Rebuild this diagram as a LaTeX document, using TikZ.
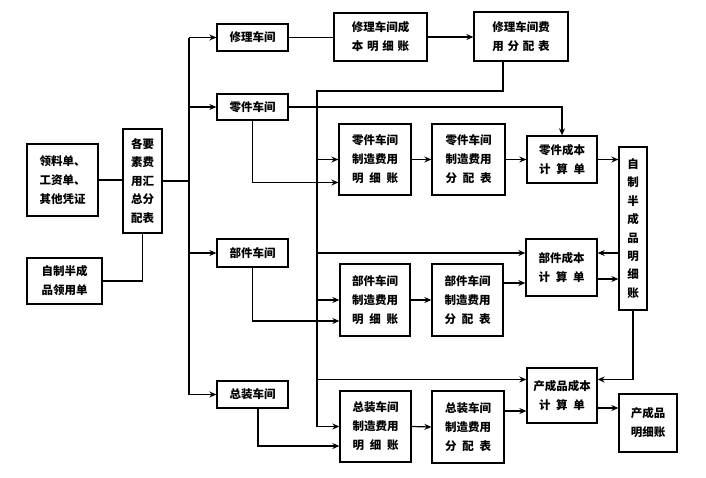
\documentclass[tikz,border=0pt]{standalone}
\usepackage{fontspec}
\setmainfont{Noto Sans CJK SC}
\usetikzlibrary{arrows.meta,calc}
\newcommand{\kg}{\hspace{0.5em}}
\newcommand{\kh}{\hspace{0.33em}}
\tikzset{
  box/.style={draw,line width=1.3pt,inner sep=0pt,align=center,
    font=\fontsize{11.5pt}{19pt}\selectfont\bfseries},
  >={Stealth[length=7pt,width=6pt]}
}

\begin{document}
\begin{tikzpicture}[x=1pt,y=-1pt,line width=1.2pt]
  \useasboundingbox (0,0) rectangle (706,477);
  % source documents
  \node[box,minimum width=71pt,minimum height=72pt,align=left] (lld) at (62.5,180) {领料单、\\工资单、\\其他凭证};
  \node[box,minimum width=75pt,minimum height=46pt] (zzly) at (64.5,281) {自制半成\\品领用单};
  \node[box,minimum width=39pt,minimum height=104pt,font=\fontsize{11.5pt}{18.5pt}\selectfont\bfseries] (hz) at (142.5,181) {各要\\素费\\用汇\\总分\\配表};
  % workshops
  \node[box,minimum width=71pt,minimum height=27pt] (xl) at (252.5,37.5) {修理车间};
  \node[box,minimum width=71pt,minimum height=26pt] (lj) at (252.5,107) {零件车间};
  \node[box,minimum width=71pt,minimum height=28pt] (bj) at (252.5,253) {部件车间};
  \node[box,minimum width=71pt,minimum height=27pt] (zz) at (252.5,394.5) {总装车间};
  % repair
  \node[box,minimum width=93pt,minimum height=48pt] (xlmx) at (380.5,37) {修理车间成\\本\kh 明\kh 细\kh 账};
  \node[box,minimum width=94pt,minimum height=49pt] (xlfp) at (521,36.5) {修理车间费\\用\kh 分\kh 配\kh 表};
  % parts
  \node[box,minimum width=72pt,minimum height=71pt] (ljmx) at (375,159.5) {零件车间\\制造费用\\明\kg 细\kg 账};
  \node[box,minimum width=73pt,minimum height=71pt] (ljfp) at (468.5,159.5) {零件车间\\制造费用\\分\kg 配\kg 表};
  \node[box,minimum width=70pt,minimum height=47pt] (ljcb) at (562,159.5) {零件成本\\计\kg 算\kg 单};
  % components
  \node[box,minimum width=70pt,minimum height=72pt] (bjmx) at (375,300) {部件车间\\制造费用\\明\kg 细\kg 账};
  \node[box,minimum width=71pt,minimum height=72pt] (bjfp) at (467.5,300) {部件车间\\制造费用\\分\kg 配\kg 表};
  \node[box,minimum width=71pt,minimum height=57pt] (bjcb) at (561.5,267.5) {部件成本\\计\kg 算\kg 单};
  % assembly
  \node[box,minimum width=71pt,minimum height=71pt] (zzmx) at (375.5,426.5) {总装车间\\制造费用\\明\kg 细\kg 账};
  \node[box,minimum width=72pt,minimum height=72pt] (zzfp) at (468,427) {总装车间\\制造费用\\分\kg 配\kg 表};
  \node[box,minimum width=70pt,minimum height=55pt] (cpcb) at (562,395.5) {产成品成本\\计\kg 算\kg 单};
  % ledgers
  \node[box,minimum width=28pt,minimum height=163pt,font=\fontsize{11.5pt}{18.4pt}\selectfont\bfseries] (zzbmx) at (633,228.5) {自\\制\\半\\成\\品\\明\\细\\账};
  \node[box,minimum width=58pt,minimum height=58pt] (cpmx) at (648,423) {产成品\\明细账};

  % collection
  \coordinate (bus) at (189,0);
  \coordinate (top2) at (317,91);
  \coordinate (c1) at ([yshift=16pt]cpcb.west);
  \draw (lld.east) -- (lld.east -| hz.west);
  \draw (zzly.east) -| (hz.south);
  \draw (hz.east) -- (hz.east -| bus);
  \draw (bus |- xl) -- (bus |- zz);
  \foreach \n in {xl,lj,bj,zz}
    \draw[->] (bus |- \n) -- (\n.west);
  % repair flow
  \draw (xl.east) -- (xl.east -| xlmx.west);
  \draw[->] (xlmx.east) -- (xlmx.east -| xlfp.west);
  \draw[->] ([xshift=-18pt]xlfp.south) |- (top2) |- (zzmx.west);
  \draw[->] (top2 |- ljmx) -- (ljmx.west);
  \draw[->] (top2 |- bjmx) -- (bjmx.west);
  \draw[->] (top2 |- bj) -- (bj -| bjcb.west);
  \draw[->] (top2 |- c1) -- (c1);
  % workshop costs
  \draw[->] (lj.east) -| (ljcb.north);
  \draw[->] (lj.south) |- ([yshift=-23pt]ljmx.west);
  \draw[->] (bj.south) |- ([yshift=-21pt]bjmx.west);
  \draw[->] ([xshift=5.5pt]zz.south) |- ([yshift=-19.5pt]zzmx.west);
  \draw[->] (ljmx.east) -- (ljfp.west);
  \draw[->] (ljfp.east) -- (ljcb.west);
  \draw[->] (ljcb.east) -- (ljcb.east -| zzbmx.west);
  \draw[->] (bjmx.east) -- (bjfp.west);
  \draw[->] ([yshift=-15.5pt]bjcb.west -| bjfp.east) -- ([yshift=-15.5pt]bjcb.west);
  \draw[->] (bj -| zzbmx.west) -- (bj -| bjcb.east);
  \draw[->] ([yshift=-11.5pt]bjcb.east) -- ([yshift=-11.5pt]bjcb.east -| zzbmx.west);
  \draw[->] (zzbmx.south) |- (c1 -| cpcb.east);
  \draw[->] (zzmx.east) -- (zzfp.west);
  \draw[->] ([yshift=-15.5pt]cpcb.west -| zzfp.east) -- ([yshift=-15.5pt]cpcb.west);
  \draw[->] ([yshift=-12.5pt]cpcb.east) -- ([yshift=-12.5pt]cpcb.east -| cpmx.west);
\end{tikzpicture}
\end{document}
